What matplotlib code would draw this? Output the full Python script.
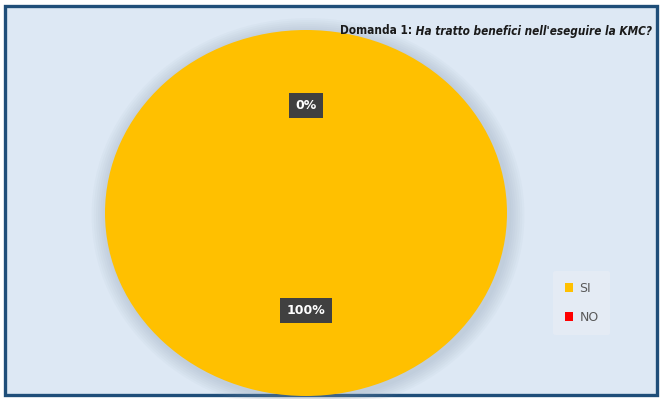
"""Pie: Domanda 1 - benefici nell'eseguire la KMC (SI / NO)."""
import matplotlib
matplotlib.use("Agg")
import matplotlib.pyplot as plt
import matplotlib.transforms as mtransforms
from matplotlib.patches import Rectangle, Ellipse

categories = ["SI", "NO"]
values = [100, 0]
colors = ["#FFC000", "#FF0000"]
title_main = "Domanda 1:"
title_rest = " Ha tratto benefici nell'eseguire la KMC?"

W, H = 660, 399
fig = plt.figure(figsize=(W / 100, H / 100), dpi=100, facecolor="white")

# chart area frame (light blue with dark blue border)
fig.patches.append(Rectangle((5 / W, 4 / H), 652 / W, 389 / H, transform=fig.transFigure,
                             facecolor="#DDE8F4", edgecolor="#1F4E79", linewidth=2.4, zorder=-5))

ax = fig.add_axes([105 / W, 3 / H, 402 / W, 366 / H])
ax.set_facecolor("none")
ax.set_zorder(2)

# soft shadow around the pie
for k in range(7):
    s = 2 + 0.022 * (7 - k)
    ax.add_patch(Ellipse((0.01, -0.012), s, s, facecolor="#8a9bb0", edgecolor="none",
                         alpha=0.05, zorder=0, clip_on=False))

wedges, texts, autotexts = ax.pie(values, colors=colors, startangle=90, counterclock=False,
                                  autopct=lambda p: f"{p:.0f}%", pctdistance=0.56,
                                  wedgeprops=dict(linewidth=0))
shift = mtransforms.ScaledTranslation(0, 5 / 100, fig.dpi_scale_trans)
for t in autotexts:
    t.set_color("white")
    t.set_fontsize(9)
    t.set_fontweight("bold")
    t.set_transform(t.get_transform() + shift)
    t.set_bbox(dict(boxstyle="square,pad=0.5", facecolor="#404040", edgecolor="none"))
ax.set_aspect("auto")
ax.set_xlim(-1.0, 1.0)
ax.set_ylim(-1.0, 1.0)
ax.axis("off")

# title, two styles, right aligned
tfont = dict(family=["DejaVu Sans"], fontstretch="condensed", fontsize=8.5,
             fontweight="bold", color="#1a1a1a")
t2 = fig.text(652 / W, 1 - 31 / H, title_rest, ha="right", va="center",
              fontstyle="italic", **tfont)
fig.canvas.draw()
bb = t2.get_window_extent()
fig.text(bb.x0 / W, 1 - 31 / H, title_main, ha="right", va="center", **tfont)

leg = ax.legend(wedges, categories, loc="center left", bbox_to_anchor=(547 / W, 1 - 303 / H),
                bbox_transform=fig.transFigure, frameon=True, fontsize=9, handlelength=0.7,
                handleheight=0.7, labelspacing=1.3, borderpad=0.9, handletextpad=0.5)
leg.get_frame().set_facecolor("#E4EBF4")
leg.get_frame().set_edgecolor("none")
leg.get_frame().set_alpha(1)
for txt in leg.get_texts():
    txt.set_color("#595959")

fig.savefig("out.png", dpi=100)
